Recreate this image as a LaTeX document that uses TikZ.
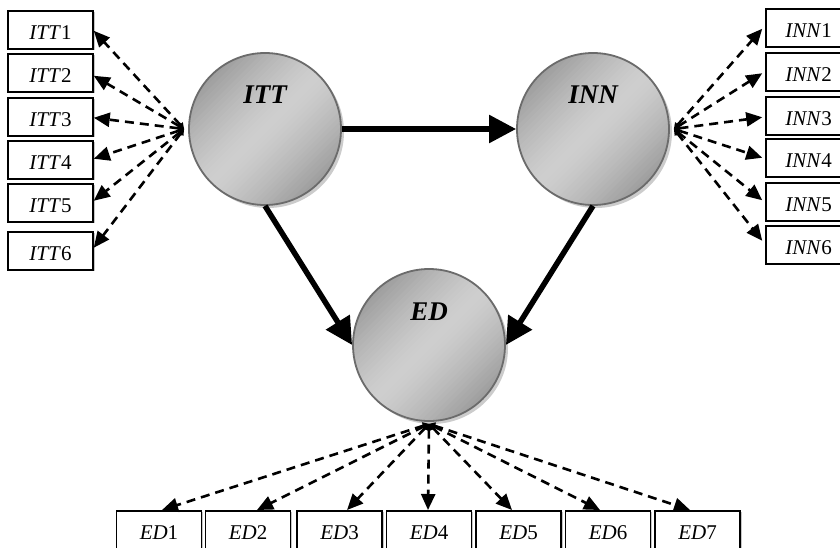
\documentclass[tikz,border=0pt]{standalone}
\usepackage{fontspec}
\setmainfont{Liberation Serif}
\usetikzlibrary{arrows.meta}
\begin{document}
\begin{tikzpicture}[x=1pt,y=-1pt,
  obsbox/.style={draw=black,line width=1.5pt,fill=white,minimum width=85pt,minimum height=38pt,inner sep=0pt},
  boxshadow/.style={fill=gray!45},
  boxtxt/.style={anchor=base,font=\fontsize{21}{21}\selectfont,inner sep=0pt},
  latent/.style={circle,draw=black!58,line width=1.8pt,minimum size=152pt,inner sep=0pt},
  latshadow/.style={fill=gray!40},
  lattxt/.style={anchor=base,font=\fontsize{27}{27}\selectfont\bfseries\itshape,inner sep=0pt},
  load/.style={line width=2.6pt,dash pattern=on 9pt off 6pt,
     {Triangle[length=6pt,width=7pt]}-{Triangle[length=16pt,width=14pt]}},
  path/.style={line width=5.5pt,-{Triangle[length=27pt,width=27pt]}}]
\useasboundingbox (0,0) rectangle (840,547);
\clip (0,0) rectangle (840,547);
% latent variables: shadow and stripe shading
\foreach \cx/\cy in {265/129,593/129,429/345}{
  \fill[latshadow] (\cx+3,\cy+3) circle (76);
  \begin{scope}
    \clip (\cx,\cy) circle (76);
    \foreach \k in {-20,...,19}{
      \pgfmathsetmacro\v{38+42*(abs(\k+0.5)/20)^1.4}
      \fill[gray!\v, rotate around={45:(\cx,\cy)}]
        (\cx-90,\cy+\k*4) rectangle (\cx+90,\cy+\k*4+4.6);
    }
  \end{scope}
}
\node[latent] (itt) at (265,129) {};
\node[latent] (inn) at (593,129) {};
\node[latent] (ed) at (429,345) {};
\node[lattxt] (ittl) at (265,103) {ITT};
\node[lattxt] (innl) at (593,103) {INN};
\node[lattxt] (edl) at (429,320) {ED};
% ITT indicators
\foreach \i/\t in {1/10,2/53,3/97,4/140,5/183,6/231}{
  \fill[boxshadow] (9.5,\t+1.5) rectangle (94.5,\t+39.5);
  \node[obsbox,anchor=north] (itt\i) at (50.5,\t) {};
  \node[boxtxt] (itt\i t) at (50.5,\t+29) {\textit{ITT}\i};
}
% INN indicators
\foreach \i/\t in {1/8,2/52,3/96,4/138,5/182,6/225}{
  \fill[boxshadow] (767.5,\t+1.5) rectangle (852.5,\t+39.5);
  \node[obsbox,anchor=north] (inn\i) at (808.5,\t) {};
  \node[boxtxt] (inn\i t) at (808.5,\t+29) {\textit{INN}\i};
}
% ED indicators
\foreach \i/\x in {1/159,2/248,3/339.5,4/429,5/518.5,6/608,7/697.5}{
  \fill[boxshadow] (\x-41,511.5) rectangle (\x+44,550);
  \node[obsbox,anchor=north] (ed\i) at (\x,510) {};
  \node[boxtxt] (ed\i t) at (\x,539) {\textit{ED}\i};
}
% loadings
\foreach \i/\dy in {1/-1,2/-3,3/-1,4/1,5/2,6/3}{
  \draw[load] ([xshift=-4pt]itt.west) -- ([yshift=\dy pt]itt\i.east);
}
\foreach \i/\dy in {1/-1,2/-1.5,3/-1.5,4/0,5/1.5,6/4}{
  \draw[load] ([xshift=4pt]inn.east) -- ([xshift=-3pt,yshift=\dy pt]inn\i.west);
}
\foreach \i/\dx in {1/3,2/9,3/7.5,4/-1,5/-6.5,6/-8,7/-7.5}{
  \draw[load] ([yshift=-2pt]ed.south) -- ([xshift=\dx pt]ed\i.north);
}
% structural paths
\draw[path] (itt.east) -- (inn.west);
\draw[path] (itt.south) -- (ed.west);
\draw[path] (inn.south) -- (ed.east);
\end{tikzpicture}
\end{document}
